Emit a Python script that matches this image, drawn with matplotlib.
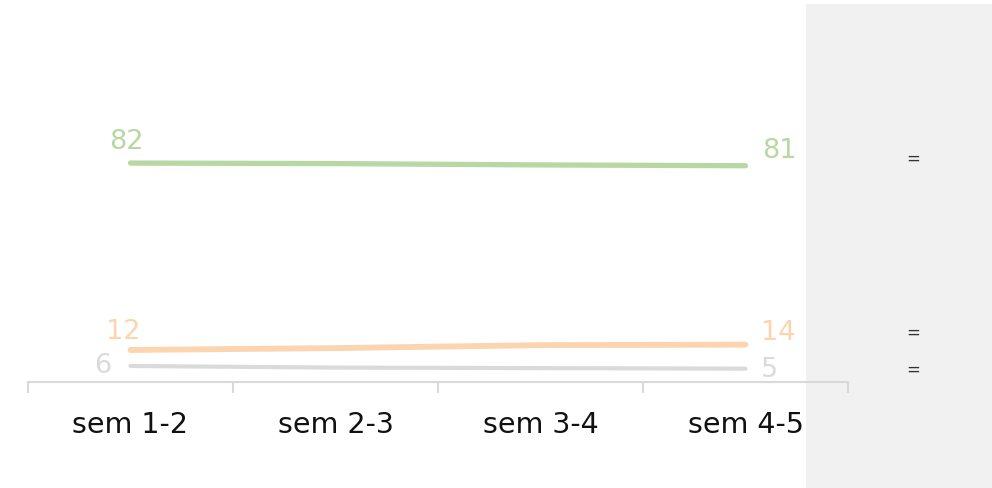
import matplotlib.pyplot as plt
from matplotlib.patches import Rectangle

categories = ['sem 1-2', 'sem 2-3', 'sem 3-4', 'sem 4-5']
green_vals = [82, 81.8, 81.3, 81]
orange_vals = [12, 12.7, 13.8, 14]
grey_vals = [6, 5.4, 5.2, 5]
series = [green_vals, orange_vals, grey_vals]
colors = ['#b7d8a2', '#fbd4b0', '#dadada']
widths = [3.8, 4.2, 3.0]
trend_marks = ['=', '=', '=']

# label nudges in points (start label, end label, trend mark), to avoid overlap
start_offsets = [(9.5, 16), (7.5, 14), (-14, 1)]
end_offsets = [(12, 11), (11, 9), (11, 0)]
mark_offsets = [(0, 6), (0, 9), (0, 0)]

W, H = 992, 489
fig = plt.figure(figsize=(W / 100, H / 100), dpi=100)
fig.patch.set_facecolor('white')

# grey side panel
fig.patches.append(Rectangle((806 / W, 0), (992 - 806) / W, (489 - 5) / H,
                             transform=fig.transFigure, facecolor='#f1f1f1',
                             edgecolor='none', zorder=0))

ax = fig.add_axes([28 / W, (H - 383) / H, 820 / W, 267 / H])
ax.set_facecolor('none')
ax.set_zorder(2)

x = list(range(len(categories)))
for vals, c, lw, so, eo, m, mo in zip(series, colors, widths, start_offsets,
                                      end_offsets, trend_marks, mark_offsets):
    ax.plot(x, vals, color=c, lw=lw, solid_capstyle='round', clip_on=False)
    ax.annotate(f'{vals[0]:g}', (x[0], vals[0]), xytext=so, textcoords='offset points',
                ha='right', va='center', fontsize=19.5, color=c)
    ax.annotate(f'{vals[-1]:g}', (x[-1], vals[-1]), xytext=eo, textcoords='offset points',
                ha='left', va='center', fontsize=19.5, color=c)
    ax.annotate(m, (913 / W, vals[-1]), xycoords=('figure fraction', 'data'),
                xytext=mo, textcoords='offset points', ha='center', va='center',
                fontsize=12, color='#333333', annotation_clip=False)

ax.set_xlim(-0.5, 3.5)
ax.set_ylim(0, 100)
for s in ['top', 'right', 'left']:
    ax.spines[s].set_visible(False)
ax.spines['bottom'].set_color('#d9d9d9')
ax.spines['bottom'].set_linewidth(1.5)
ax.set_yticks([])
ax.set_xticks(x)
ax.set_xticklabels(categories, fontsize=20.5, color='#111111')
ax.set_xticks([-0.5, 0.5, 1.5, 2.5, 3.5], minor=True)
ax.tick_params(axis='x', which='major', length=0, pad=20)
ax.tick_params(axis='x', which='minor', length=8, width=1.5, color='#d9d9d9')

fig.savefig('out.png', dpi=100)
